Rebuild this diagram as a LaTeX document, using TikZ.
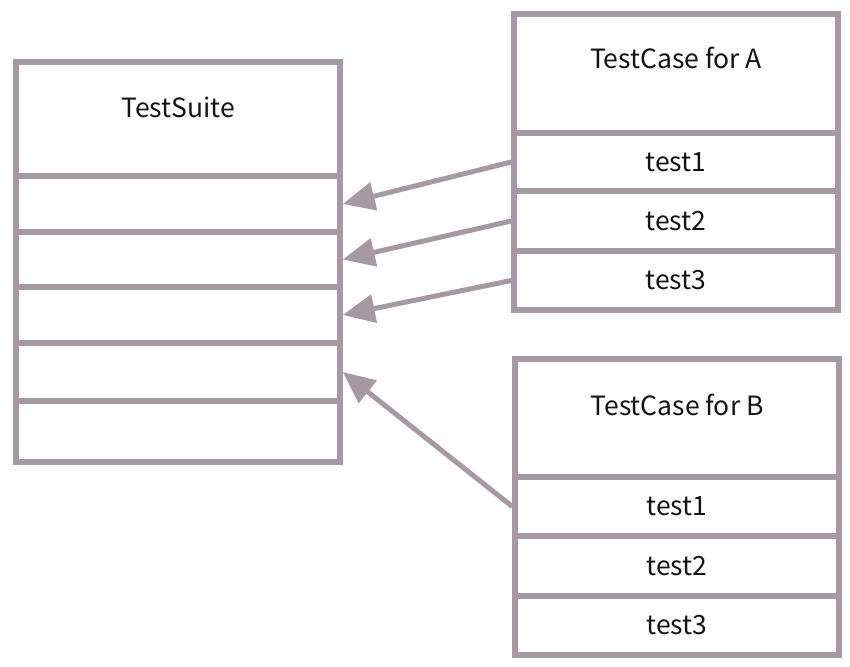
\documentclass[tikz,border=0pt]{standalone}
\usepackage{fontspec}
\setmainfont{Noto Sans CJK KR}
\usetikzlibrary{arrows.meta}
\definecolor{boxc}{RGB}{167,153,163}
\definecolor{txtc}{RGB}{20,20,20}
\tikzset{
  cell/.style={draw=boxc, line width=5.5pt, rectangle, inner sep=0pt, minimum width=324pt},
  lbl/.style={font=\fontsize{26.5}{31}\selectfont, text=txtc, inner sep=0pt},
  link/.style={draw=boxc, line width=5pt, -{Triangle[length=32pt,width=28pt]}}
}
\begin{document}
\begin{tikzpicture}[x=1pt,y=-1pt]
\useasboundingbox (0,0) rectangle (850,666);
% TestSuite
\node[cell, minimum height=114pt] (tsh) at (178,119) {};
\node[lbl] (tst) at (178,107) {TestSuite};
\node[cell, minimum height=56pt] (ts1) at (178,204) {};
\node[cell, minimum height=55pt] (ts2) at (178,259.5) {};
\node[cell, minimum height=56pt] (ts3) at (178,315) {};
\node[cell, minimum height=58pt] (ts4) at (178,372) {};
\node[cell, minimum height=61pt] (ts5) at (178,431.5) {};
% TestCase for A
\node[cell, minimum height=119pt] (ah) at (676,73.5) {};
\node[lbl] (at) at (676,58) {TestCase for A};
\node[cell, minimum height=58pt] (a1) at (676,162) {};
\node[lbl] at (a1) {test1};
\node[cell, minimum height=60pt] (a2) at (676,221) {};
\node[lbl] at (a2) {test2};
\node[cell, minimum height=59pt] (a3) at (676,280.5) {};
\node[lbl] at (a3) {test3};
% TestCase for B
\node[cell, minimum height=118pt] (bh) at (677,418) {};
\node[lbl] (bt) at (677,405) {TestCase for B};
\node[cell, minimum height=59pt] (b1) at (677,506.5) {};
\node[lbl] at (b1) {test1};
\node[cell, minimum height=60pt] (b2) at (677,566) {};
\node[lbl] at (b2) {test2};
\node[cell, minimum height=59pt] (b3) at (677,625.5) {};
\node[lbl] at (b3) {test3};
% arrows
\draw[link] (a1.west) -- (ts1.east);
\draw[link] (a2.west) -- (ts2.east);
\draw[link] (a3.west) -- (ts3.east);
\draw[link] (b1.west) -- (ts4.east);
\end{tikzpicture}
\end{document}
